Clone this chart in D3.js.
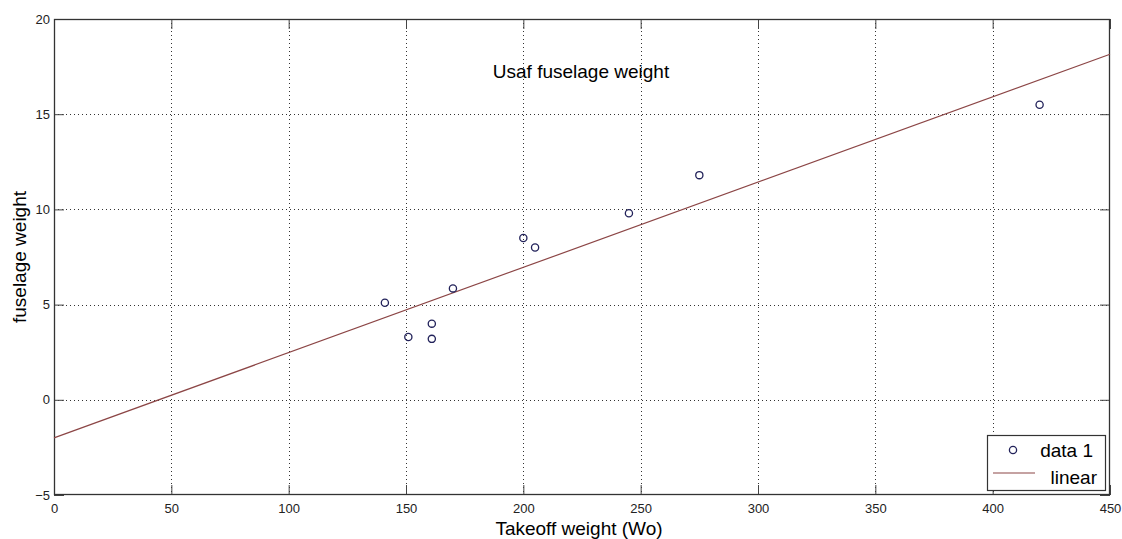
<!DOCTYPE html>
<html>
<head>
<meta charset="utf-8">
<script src="https://cdn.jsdelivr.net/npm/d3@7"></script>
<style>
  body { margin: 0; background: #fff; }
  svg { display: block; font-family: "Liberation Sans", Arial, sans-serif; }
  .tick text { fill: #222; font-size: 13px; }
</style>
</head>
<body>
<script>
const width = 1122;
const height = 539;

// data
const takeoffWeight = [141, 151, 161, 161, 170, 200, 205, 245, 275, 420];
const fuselageWeight = [5.1, 3.3, 4.0, 3.2, 5.85, 8.5, 8.0, 9.8, 11.8, 15.5];
const fitX = [0, 450];
const fitY = [-2.0, 18.15];
const xTicks = [0, 50, 100, 150, 200, 250, 300, 350, 400, 450];
const yTicks = [-5, 0, 5, 10, 15, 20];

const plotLeft = 54, plotRight = 1110, plotTop = 19, plotBottom = 495;

const svg = d3.select('body')
  .append('svg')
  .attr('width', width)
  .attr('height', height);

const x = d3.scaleLinear().domain([0, 450]).range([plotLeft, plotRight]);
const y = d3.scaleLinear().domain([-5, 20]).range([plotBottom, plotTop]);

// dotted grid
const grid = svg.append('g')
  .attr('stroke', '#333')
  .attr('stroke-width', 1)
  .attr('stroke-dasharray', '1,3');
grid.selectAll('.gx')
  .data(xTicks.slice(1, -1))
  .enter().append('line')
  .attr('x1', d => Math.round(x(d)) + 0.5).attr('x2', d => Math.round(x(d)) + 0.5)
  .attr('y1', plotTop).attr('y2', plotBottom);
grid.selectAll('.gy')
  .data(yTicks.slice(1, -1))
  .enter().append('line')
  .attr('y1', d => Math.round(y(d)) + 0.5).attr('y2', d => Math.round(y(d)) + 0.5)
  .attr('x1', plotLeft).attr('x2', plotRight);

// axes, ticks pointing inward like matlab
const bottomAxis = svg.append('g')
  .attr('transform', `translate(0,${plotBottom})`)
  .call(d3.axisBottom(x).tickValues(xTicks).tickSize(-10).tickPadding(9));
const leftAxis = svg.append('g')
  .attr('transform', `translate(${plotLeft},0)`)
  .call(d3.axisLeft(y).tickValues(yTicks).tickSize(-10).tickPadding(4));
const topAxis = svg.append('g')
  .attr('transform', `translate(0,${plotTop})`)
  .call(d3.axisTop(x).tickValues(xTicks).tickSize(-10).tickFormat(''));
const rightAxis = svg.append('g')
  .attr('transform', `translate(${plotRight},0)`)
  .call(d3.axisRight(y).tickValues(yTicks).tickSize(-10).tickFormat(''));

[bottomAxis, leftAxis, topAxis, rightAxis].forEach(a => {
  a.select('.domain').remove();
  a.selectAll('.tick line').attr('stroke', '#444');
});

// frame
svg.append('rect')
  .attr('x', plotLeft + 0.5).attr('y', plotTop + 0.5)
  .attr('width', plotRight - plotLeft - 1).attr('height', plotBottom - plotTop - 1)
  .attr('fill', 'none')
  .attr('stroke', '#333')
  .attr('stroke-width', 1.3);

// fitted line
svg.append('line')
  .attr('x1', x(fitX[0])).attr('y1', y(fitY[0]))
  .attr('x2', x(fitX[1])).attr('y2', y(fitY[1]))
  .attr('stroke', '#8c4646')
  .attr('stroke-width', 1.2);

// data points
svg.selectAll('circle.pt')
  .data(takeoffWeight.map((d, i) => [d, fuselageWeight[i]]))
  .enter().append('circle')
  .attr('class', 'pt')
  .attr('cx', d => x(d[0]))
  .attr('cy', d => y(d[1]))
  .attr('r', 3.6)
  .attr('fill', 'none')
  .attr('stroke', '#22225a')
  .attr('stroke-width', 1.3);

// title & labels
svg.append('text')
  .text('Usaf fuselage weight')
  .attr('x', 581).attr('y', 78)
  .attr('text-anchor', 'middle')
  .attr('font-size', 19)
  .attr('fill', '#000');

svg.append('text')
  .text('Takeoff weight (Wo)')
  .attr('x', 579).attr('y', 535)
  .attr('text-anchor', 'middle')
  .attr('font-size', 19)
  .attr('fill', '#000');

svg.append('text')
  .text('fuselage weight')
  .attr('transform', `translate(26,${(plotTop + plotBottom) / 2}) rotate(-90)`)
  .attr('text-anchor', 'middle')
  .attr('font-size', 19)
  .attr('fill', '#000');

// legend
const legend = svg.append('g');
legend.append('rect')
  .attr('x', 987.5).attr('y', 435.5)
  .attr('width', 118).attr('height', 55)
  .attr('fill', '#fff')
  .attr('stroke', '#333')
  .attr('stroke-width', 1.2);
legend.append('circle')
  .attr('cx', 1013).attr('cy', 450)
  .attr('r', 3.6)
  .attr('fill', 'none')
  .attr('stroke', '#22225a')
  .attr('stroke-width', 1.3);
legend.append('text')
  .text('data 1')
  .attr('x', 1093).attr('y', 457)
  .attr('text-anchor', 'end')
  .attr('font-size', 19)
  .attr('fill', '#000');
legend.append('line')
  .attr('x1', 993).attr('x2', 1035)
  .attr('y1', 473).attr('y2', 473)
  .attr('stroke', '#8c4646')
  .attr('stroke-width', 1.2);
legend.append('text')
  .text('linear')
  .attr('x', 1097).attr('y', 484)
  .attr('text-anchor', 'end')
  .attr('font-size', 19)
  .attr('fill', '#000');
</script>
</body>
</html>
